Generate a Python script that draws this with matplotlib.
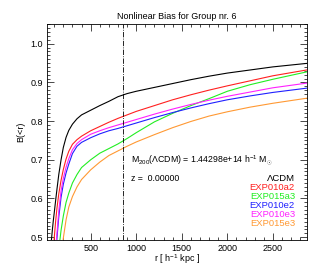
import matplotlib
matplotlib.use("Agg")
import matplotlib.pyplot as plt
from matplotlib.ticker import MultipleLocator

plt.rcParams['font.family'] = ['Liberation Sans', 'DejaVu Sans']
plt.rcParams['mathtext.fontset'] = 'custom'
plt.rcParams['mathtext.rm'] = 'Liberation Sans'
plt.rcParams['mathtext.it'] = 'Liberation Sans'

r = [50, 60, 70, 80, 90, 100, 115, 130, 150, 175, 200, 230, 260, 300, 350, 400,
     500, 600, 700, 800, 900, 1000, 1200, 1400, 1600, 1800, 2000, 2250, 2500, 2870]
b_lcdm = [0.43, 0.465, 0.495, 0.520, 0.543, 0.563, 0.594, 0.624, 0.662, 0.700, 0.732, 0.758, 0.776, 0.792, 0.806, 0.816,
          0.828, 0.840, 0.851, 0.863, 0.871, 0.877, 0.887, 0.897, 0.907, 0.916, 0.924, 0.932, 0.940, 0.949]
b_exp010a2 = [0.30, 0.345, 0.385, 0.424, 0.462, 0.498, 0.540, 0.575, 0.612, 0.647, 0.675, 0.702, 0.722, 0.740, 0.752, 0.761,
              0.775, 0.786, 0.797, 0.807, 0.816, 0.825, 0.840, 0.855, 0.868, 0.880, 0.891, 0.904, 0.917, 0.932]
b_exp015a3 = [0.08, 0.13, 0.18, 0.23, 0.27, 0.31, 0.37, 0.42, 0.468, 0.518, 0.555, 0.590, 0.614, 0.640, 0.662, 0.680,
              0.700, 0.717, 0.729, 0.741, 0.755, 0.770, 0.798, 0.820, 0.840, 0.858, 0.877, 0.894, 0.908, 0.927]
b_exp010e2 = [0.17, 0.22, 0.27, 0.32, 0.36, 0.40, 0.45, 0.498, 0.552, 0.603, 0.637, 0.666, 0.689, 0.716, 0.735, 0.745,
              0.757, 0.767, 0.775, 0.781, 0.788, 0.795, 0.809, 0.822, 0.834, 0.845, 0.855, 0.865, 0.874, 0.885]
b_exp010e3 = [0.18, 0.23, 0.28, 0.33, 0.38, 0.42, 0.468, 0.510, 0.568, 0.620, 0.652, 0.681, 0.703, 0.726, 0.742, 0.752,
              0.766, 0.775, 0.783, 0.790, 0.797, 0.804, 0.818, 0.831, 0.843, 0.854, 0.864, 0.875, 0.886, 0.898]
b_exp015e3 = [-0.10, -0.03, 0.03, 0.09, 0.14, 0.19, 0.25, 0.30, 0.37, 0.44, 0.498, 0.545, 0.578, 0.605, 0.630, 0.649,
              0.674, 0.694, 0.711, 0.723, 0.735, 0.746, 0.765, 0.783, 0.799, 0.813, 0.824, 0.836, 0.846, 0.859]

labels = ['ΛCDM', 'EXP010a2', 'EXP015a3', 'EXP010e2', 'EXP010e3', 'EXP015e3']
series = [b_lcdm, b_exp010a2, b_exp015a3, b_exp010e2, b_exp010e3, b_exp015e3]
colors = ['#000000', '#ff2020', '#22ee22', '#2020ff', '#ff20ff', '#ff9933']

r200 = 857
m200_text = r'M$_{200}$($\Lambda$CDM) = 1.44298e+14 h$^{-1}$ M$_{\odot}$'
z_text = 'z =  0.00000'

fig = plt.figure(figsize=(3.19, 2.66), dpi=100)
ax = fig.add_axes([0.148, 0.0966, 0.813, 0.812])

for s, c in zip(series, colors):
    ax.plot(r, s, color=c, lw=0.8)

ax.axvline(r200, color='black', lw=0.6, linestyle='-.')

ax.set_xlim(23, 2870)
ax.set_ylim(0.492, 1.05)
ax.xaxis.set_major_locator(MultipleLocator(500))
ax.xaxis.set_minor_locator(MultipleLocator(100))
ax.yaxis.set_major_locator(MultipleLocator(0.1))
ax.yaxis.set_minor_locator(MultipleLocator(0.01))
ax.tick_params(which='both', direction='in', top=True, right=True, labelsize=6.5, width=0.5, pad=3)
ax.tick_params(which='major', length=5)
ax.tick_params(which='minor', length=2.5)
for sp in ax.spines.values():
    sp.set_linewidth(0.6)
ax.set_yticks([0.5, 0.6, 0.7, 0.8, 0.9, 1.0])
ax.set_xticks([500, 1000, 1500, 2000, 2500])

ax.set_title('Nonlinear Bias for Group nr. 6', fontsize=6.5, pad=4)
ax.set_xlabel(r'r [ h$^{-1}$ kpc ]', fontsize=6.5)
ax.xaxis.label.set_va('center')
ax.xaxis.set_label_coords(0.5, -0.088)
ax.set_ylabel('B(<r)', fontsize=6.5)
ax.yaxis.label.set_va('center')
ax.yaxis.set_label_coords(-0.103, 0.5)

ax.text(0.325, 0.373, m200_text, transform=ax.transAxes, fontsize=6.3, va='center', ha='left')
ax.text(0.325, 0.285, z_text, transform=ax.transAxes, fontsize=6.3, va='center', ha='left')

y0 = 0.288
dy = 0.0425
for i, (lab, c) in enumerate(zip(labels, colors)):
    ax.text(0.955, y0 - i * dy, lab, color=c, transform=ax.transAxes, fontsize=6.8,
            ha='right', va='center')

fig.savefig('out.png', dpi=100)
